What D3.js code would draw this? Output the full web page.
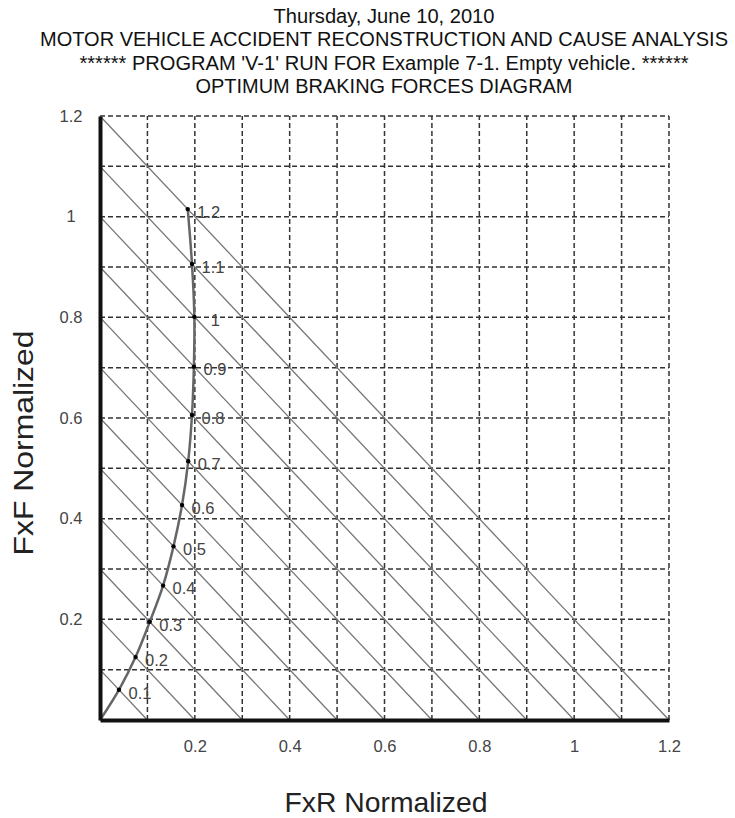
<!DOCTYPE html>
<html>
<head>
<meta charset="utf-8">
<script src="https://cdn.jsdelivr.net/npm/d3@7"></script>
<style>
  body { margin: 0; background: #fff; }
  text { font-family: "Liberation Sans", Arial, sans-serif; }
</style>
</head>
<body>
<script>
// deceleration levels (x + y = z lines and curve point labels)
const decelLevels = [0.1, 0.2, 0.3, 0.4, 0.5, 0.6, 0.7, 0.8, 0.9, 1.0, 1.1, 1.2];
// optimum braking curve
const fxR = [0.040, 0.075, 0.105, 0.133, 0.155, 0.173, 0.186, 0.194, 0.198, 0.199, 0.194, 0.185];
const fxF = [0.060, 0.125, 0.195, 0.267, 0.345, 0.427, 0.514, 0.606, 0.702, 0.801, 0.906, 1.015];
const gridVals = [0.1, 0.2, 0.3, 0.4, 0.5, 0.6, 0.7, 0.8, 0.9, 1.0, 1.1, 1.2];
const xTicks = [0.2, 0.4, 0.6, 0.8, 1.0, 1.2];
const yTicks = [0.2, 0.4, 0.6, 0.8, 1.0, 1.2];
const titleLines = [
  'Thursday, June 10, 2010',
  'MOTOR VEHICLE ACCIDENT RECONSTRUCTION AND CAUSE ANALYSIS',
  "****** PROGRAM 'V-1' RUN FOR Example 7-1. Empty vehicle. ******",
  'OPTIMUM BRAKING FORCES DIAGRAM'
];
const titleWidths = [221, 688, 609, 377];

const width = 735, height = 818;
const svg = d3.select('body').append('svg')
  .attr('width', width).attr('height', height);

const x = d3.scaleLinear().domain([0, 1.2]).range([100, 669]);
const y = d3.scaleLinear().domain([0, 1.2]).range([720, 116]);
const fmt = d3.format('~g');

// titles
svg.selectAll('text.title')
  .data(titleLines)
  .enter()
  .append('text')
  .attr('class', 'title')
  .attr('x', 384)
  .attr('y', (d, i) => 23 + i * 23.4)
  .attr('text-anchor', 'middle')
  .attr('font-size', 20)
  .attr('fill', '#111')
  .attr('textLength', (d, i) => titleWidths[i])
  .attr('lengthAdjust', 'spacingAndGlyphs')
  .text(d => d);

// dashed grid
const grid = svg.append('g')
  .attr('stroke', '#333')
  .attr('stroke-width', 1.5)
  .attr('stroke-dasharray', '5,3');
grid.selectAll('line.v')
  .data(gridVals)
  .enter()
  .append('line')
  .attr('class', 'v')
  .attr('x1', d => x(d)).attr('x2', d => x(d))
  .attr('y1', y(0)).attr('y2', y(1.2));
grid.selectAll('line.h')
  .data(gridVals)
  .enter()
  .append('line')
  .attr('class', 'h')
  .attr('x1', x(0)).attr('x2', x(1.2))
  .attr('y1', d => y(d)).attr('y2', d => y(d));

// constant deceleration lines
svg.append('g')
  .selectAll('line')
  .data(decelLevels)
  .enter()
  .append('line')
  .attr('x1', x(0)).attr('y1', d => y(d))
  .attr('x2', d => x(d)).attr('y2', y(0))
  .attr('stroke', '#777')
  .attr('stroke-width', 1.3);

// optimum curve
const pts = [[0, 0]].concat(fxR.map((v, i) => [v, fxF[i]]));
const line = d3.line()
  .x(d => x(d[0]))
  .y(d => y(d[1]))
  .curve(d3.curveCatmullRom);
svg.append('path')
  .attr('d', line(pts))
  .attr('fill', 'none')
  .attr('stroke', '#666')
  .attr('stroke-width', 2.5);

svg.selectAll('circle')
  .data(decelLevels)
  .enter()
  .append('circle')
  .attr('cx', (d, i) => x(fxR[i]))
  .attr('cy', (d, i) => y(fxF[i]))
  .attr('r', 2.2)
  .attr('fill', '#000');

svg.selectAll('text.pt')
  .data(decelLevels)
  .enter()
  .append('text')
  .attr('class', 'pt')
  .attr('x', (d, i) => x(fxR[i]) + 21)
  .attr('y', (d, i) => y(fxF[i]) + 3)
  .attr('dy', '0.35em')
  .attr('text-anchor', 'middle')
  .attr('font-size', 16.5)
  .attr('fill', '#444')
  .text(d => fmt(d));

// axes
const yAxis = svg.append('g')
  .attr('transform', `translate(${x(0)},0)`)
  .call(d3.axisLeft(y).tickValues(yTicks).tickSize(0).tickSizeOuter(0).tickFormat(fmt));
yAxis.attr('font-size', null).attr('font-family', null);
yAxis.select('.domain').attr('stroke', '#111').attr('stroke-width', 4);
yAxis.selectAll('text')
  .attr('x', -29)
  .attr('text-anchor', 'middle')
  .attr('font-size', 16.5)
  .attr('fill', '#444');

const xAxis = svg.append('g')
  .attr('transform', `translate(0,${y(0)})`)
  .call(d3.axisBottom(x).tickValues(xTicks).tickSize(0).tickSizeOuter(0).tickPadding(20).tickFormat(fmt));
xAxis.attr('font-size', null).attr('font-family', null);
xAxis.select('.domain').attr('stroke', '#111').attr('stroke-width', 4);
xAxis.selectAll('text')
  .attr('font-size', 16.5)
  .attr('fill', '#444');

// axis titles
svg.append('text')
  .attr('transform', 'translate(33,443) rotate(-90)')
  .attr('text-anchor', 'middle')
  .attr('font-size', 27)
  .attr('fill', '#222')
  .attr('textLength', 225)
  .attr('lengthAdjust', 'spacingAndGlyphs')
  .text('FxF Normalized');

svg.append('text')
  .attr('x', 386)
  .attr('y', 812)
  .attr('text-anchor', 'middle')
  .attr('font-size', 28)
  .attr('fill', '#222')
  .attr('textLength', 203)
  .attr('lengthAdjust', 'spacingAndGlyphs')
  .text('FxR Normalized');
</script>
</body>
</html>
